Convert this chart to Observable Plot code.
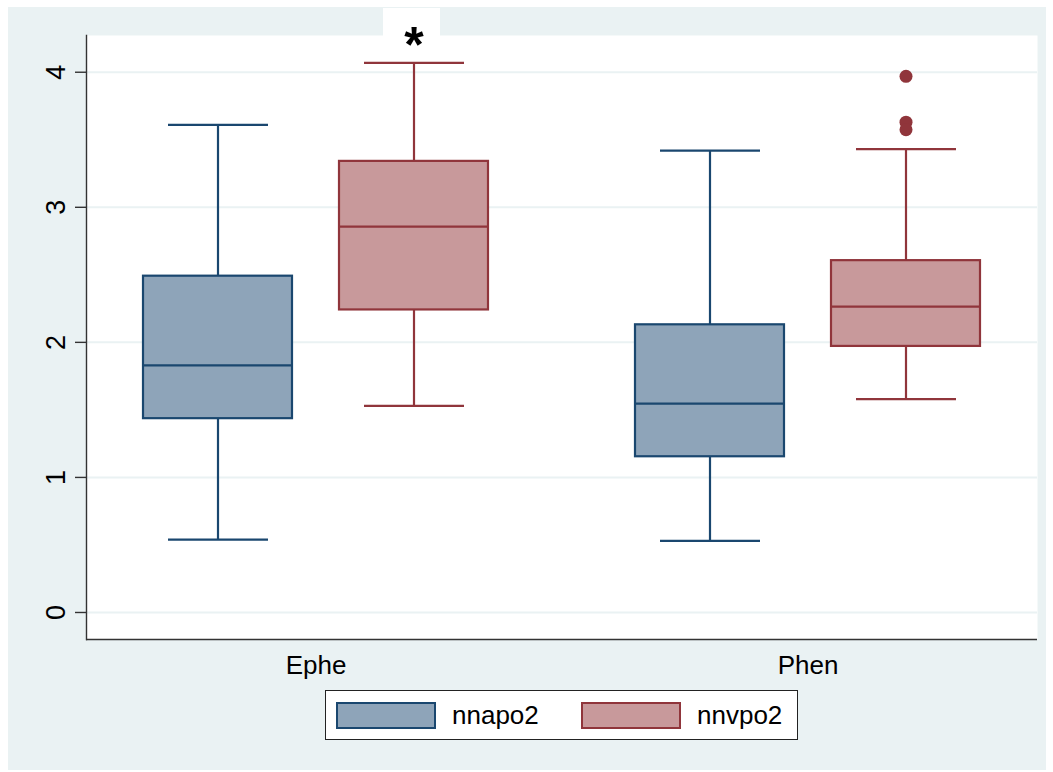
<!DOCTYPE html>
<html><head><meta charset="utf-8">
<script src="https://cdn.jsdelivr.net/npm/d3@7"></script>
<script src="https://cdn.jsdelivr.net/npm/@observablehq/plot@0.6"></script>
<style>
body{margin:0;background:#fff;font-family:"Liberation Sans",Arial,sans-serif;}
#wrap{position:relative;width:1053px;height:772px;overflow:hidden;}
#bg{position:absolute;left:8px;top:7px;width:1038px;height:763px;background:#eaf2f3;}
#tab{position:absolute;left:383px;top:8px;width:57px;height:28px;background:#fff;}
.layer{position:absolute;left:0;top:0;}
#legend{position:absolute;left:325px;top:690px;width:471px;height:48px;background:#fff;border:1px solid #222;}
.sw{position:absolute;top:11px;width:100px;height:27px;box-sizing:border-box;border:2px solid;}
.lt{position:absolute;top:0;height:48px;line-height:48px;font-size:26px;color:#000;}
</style></head>
<body><div id="wrap"><div id="bg"></div><div id="tab"></div><div id="back" class="layer"></div><div id="front" class="layer"></div><div id="legend"></div></div>
<script>
const categories = ["Ephe", "Phen"];
const series = ["nnapo2", "nnvpo2"];
const boxCategory = ["Ephe", "Ephe", "Phen", "Phen"];
const boxSeries = ["nnapo2", "nnvpo2", "nnapo2", "nnvpo2"];
const whiskerLow = [0.54, 1.53, 0.53, 1.58];
const q1 = [1.435, 2.24, 1.153, 1.97];
const median = [1.83, 2.857, 1.546, 2.265];
const q3 = [2.49, 3.34, 2.13, 2.605];
const whiskerHigh = [3.61, 4.07, 3.42, 3.43];
const outlierCategory = ["Phen", "Phen", "Phen"];
const outlierSeries = ["nnvpo2", "nnvpo2", "nnvpo2"];
const outlierValue = [3.97, 3.63, 3.575];
const annotCategory = ["Ephe"];
const annotSeries = ["nnvpo2"];
const annotLabel = ["*"];
const yTicks = [0, 1, 2, 3, 4];
const yDomain = [-0.2, 4.272];
const seriesStroke = ["#1a476f", "#90353b"];
const seriesFill = ["#8ea4b9", "#c8999b"];

const strokeOf = s => seriesStroke[series.indexOf(s)];
const fillOf = s => seriesFill[series.indexOf(s)];

const boxes = boxCategory.map((c, i) => ({
  cat: c, series: boxSeries[i], lo: whiskerLow[i], q1: q1[i], med: median[i], q3: q3[i], hi: whiskerHigh[i]
}));
const outliers = outlierValue.map((v, i) => ({cat: outlierCategory[i], series: outlierSeries[i], v}));
const annots = annotLabel.map((t, i) => ({cat: annotCategory[i], series: annotSeries[i], label: t}));

const common = {
  width: 1053, height: 680,
  marginLeft: 86, marginRight: 16, marginTop: 35, marginBottom: 41,
  style: {background: "transparent", fontFamily: "'Liberation Sans', Arial, sans-serif", color: "#000"}
};
const catPad = {paddingInner: 0.1, paddingOuter: 0.0155};

// background layer: plot region, grid, axes
const back = Plot.plot({
  ...common,
  x: {type: "band", domain: categories, ...catPad, label: null},
  y: {domain: yDomain, label: null},
  marks: [
    Plot.frame({fill: "white", stroke: null}),
    Plot.gridY(yTicks, {stroke: "#eaf2f3", strokeOpacity: 1, strokeWidth: 2}),
    Plot.ruleY([yDomain[0]], {stroke: "#333", strokeWidth: 1.4}),
    Plot.frame({anchor: "left", stroke: "#333", strokeWidth: 1.4}),
    Plot.axisY(yTicks, {tickSize: 11, tickRotate: -90, tickPadding: 11, fontSize: 27, tickFormat: d3.format("d"), stroke: "#333", strokeWidth: 1.4, label: null}),
    Plot.axisX({anchor: "bottom", tickSize: 0, tickPadding: 16, fontSize: 26, label: null})
  ]
});
document.getElementById("back").appendChild(back);

const sw = 2.2;
const front = Plot.plot({
  ...common,
  fx: {domain: categories, ...catPad, axis: null, label: null},
  x: {domain: series, paddingInner: 0.2417, paddingOuter: 0.248, axis: null},
  y: {domain: yDomain, axis: null},
  marks: [
    Plot.ruleX(boxes, {fx: "cat", x: "series", y1: "lo", y2: "q1", stroke: d => strokeOf(d.series), strokeWidth: sw}),
    Plot.ruleX(boxes, {fx: "cat", x: "series", y1: "q3", y2: "hi", stroke: d => strokeOf(d.series), strokeWidth: sw}),
    Plot.tickY(boxes, {fx: "cat", x: "series", y: "lo", stroke: d => strokeOf(d.series), strokeWidth: sw, insetLeft: 25, insetRight: 24}),
    Plot.tickY(boxes, {fx: "cat", x: "series", y: "hi", stroke: d => strokeOf(d.series), strokeWidth: sw, insetLeft: 25, insetRight: 24}),
    Plot.barY(boxes, {fx: "cat", x: "series", y1: "q1", y2: "q3", fill: d => fillOf(d.series), stroke: d => strokeOf(d.series), strokeWidth: sw}),
    Plot.tickY(boxes, {fx: "cat", x: "series", y: "med", stroke: d => strokeOf(d.series), strokeWidth: sw}),
    Plot.dot(outliers, {fx: "cat", x: "series", y: "v", r: 6.5, fill: d => strokeOf(d.series), stroke: null}),
    Plot.text(annots, {fx: "cat", x: "series", text: "label", frameAnchor: "top", lineAnchor: "top", fontSize: 50, fontWeight: "bold", dy: -9, fill: "#000"})
  ]
});
document.getElementById("front").appendChild(front);

const legend = document.getElementById("legend");
series.forEach((s, i) => {
  const box = document.createElement("div");
  box.className = "sw";
  box.style.left = (10 + i * 245) + "px";
  box.style.background = seriesFill[i];
  box.style.borderColor = seriesStroke[i];
  legend.appendChild(box);
  const t = document.createElement("div");
  t.className = "lt";
  t.style.left = (126 + i * 245) + "px";
  t.textContent = s;
  legend.appendChild(t);
});
</script></body></html>
